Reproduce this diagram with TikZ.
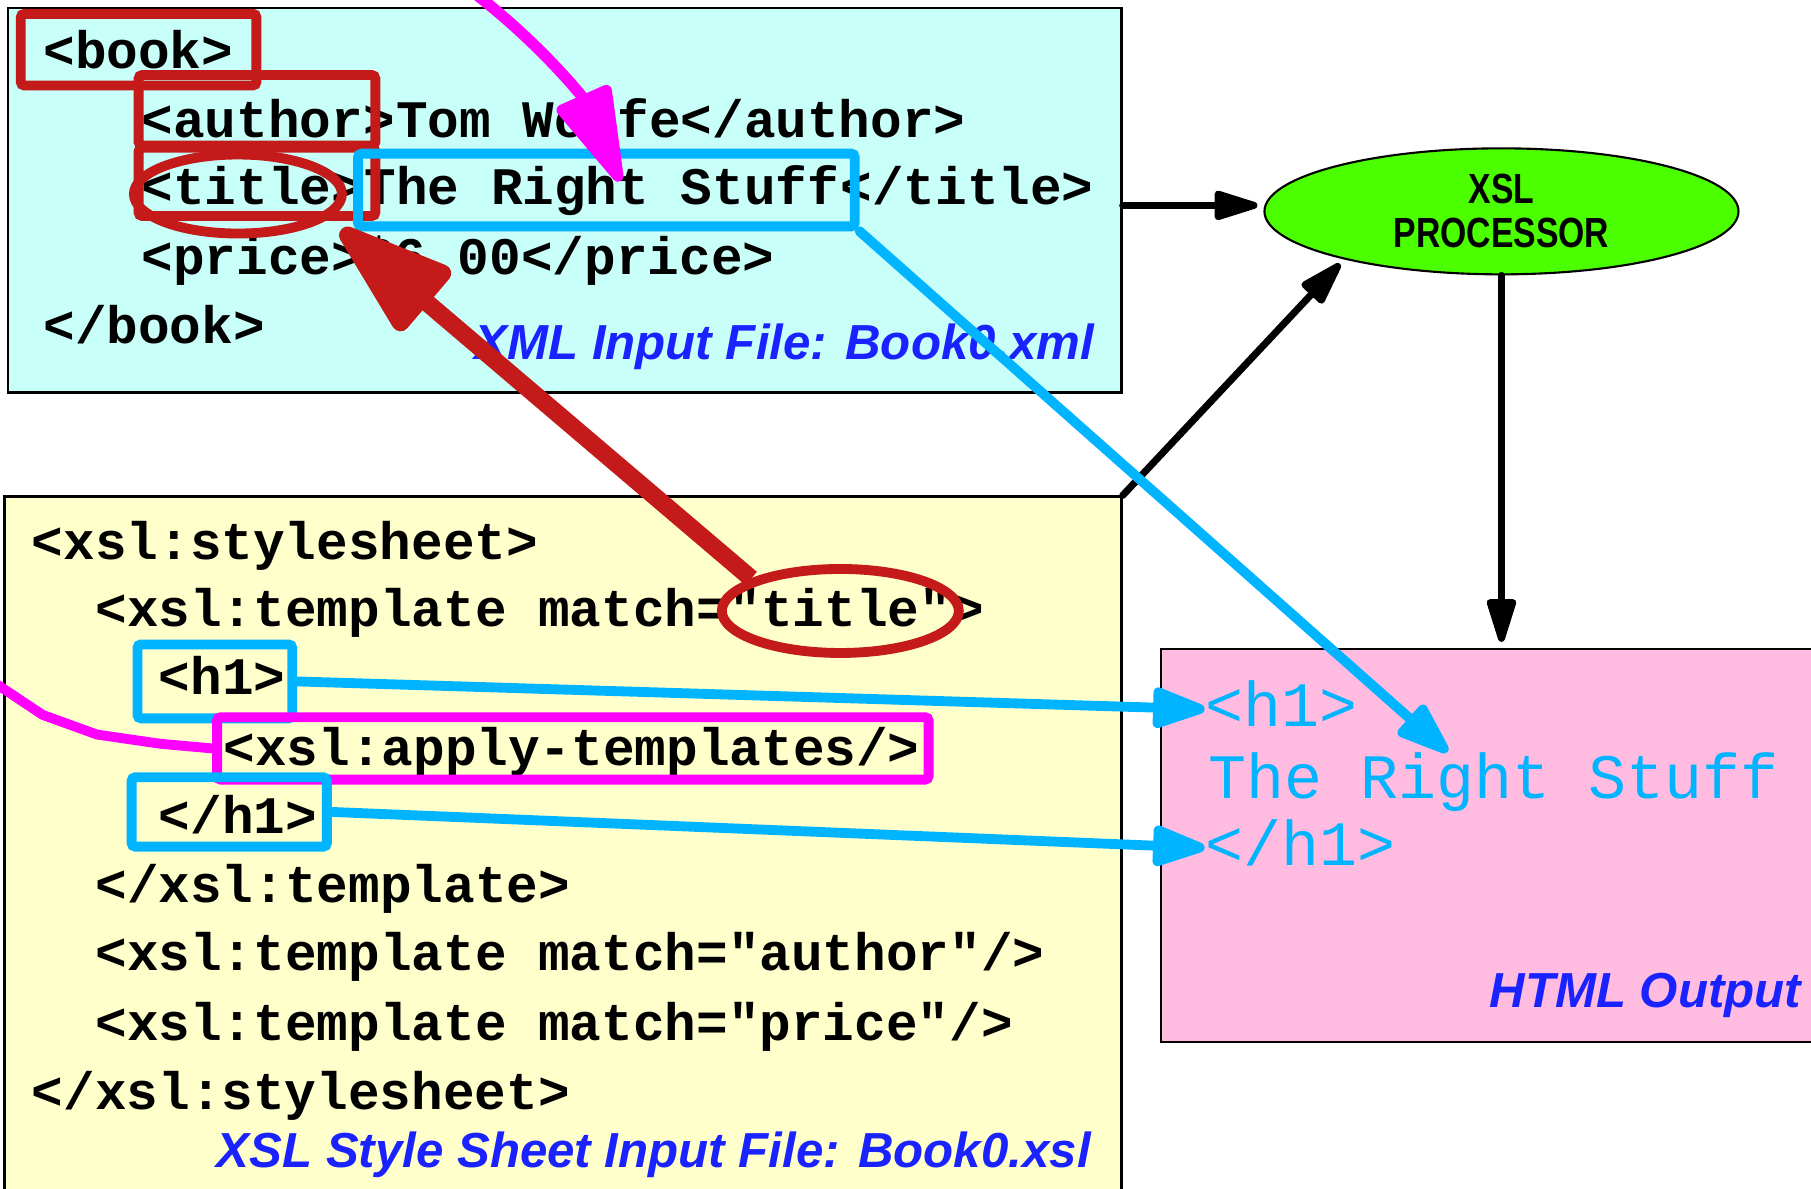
\documentclass[tikz,border=0pt]{standalone}
\usepackage{fontspec}
\usetikzlibrary{arrows.meta,positioning,shapes.geometric,fit}
\newfontfamily\codefont{Liberation Mono}
\newfontfamily\labelfont{Liberation Sans}
\newfontfamily\procfont[FakeStretch=0.8]{Liberation Sans}
\definecolor{xmlbg}{HTML}{C8FFF8}
\definecolor{xslbg}{HTML}{FFFFCC}
\definecolor{htmlbg}{HTML}{FFBBE0}
\definecolor{markred}{HTML}{C41A1A}
\definecolor{markblue}{HTML}{00B4FF}
\definecolor{markpink}{HTML}{FF00FF}
\definecolor{labelblue}{HTML}{1A22FF}
\definecolor{procgreen}{HTML}{4CFF00}

\begin{document}
\begin{tikzpicture}[x=0.1155mm,y=-0.1155mm,panel/.style={draw=black,line width=0.7pt,inner sep=0pt},code/.style={font=\codefont\bfseries\fontsize{15}{18}\selectfont,inner sep=0pt,anchor=west,text height=11pt,text depth=2pt},html/.style={font=\codefont\fontsize{18}{22}\selectfont,text=markblue,inner sep=0pt,anchor=west,text height=13pt,text depth=3pt},caption/.style={font=\labelfont\bfseries\itshape\fontsize{14}{16}\selectfont,text=labelblue,inner sep=0pt,anchor=east},redbox/.style={draw=markred,line width=2.8pt,rounded corners=1pt,inner sep=0pt},bluebox/.style={draw=markblue,line width=2.8pt,rounded corners=1pt,inner sep=0pt},pinkbox/.style={draw=markpink,line width=2.8pt,rounded corners=1pt,inner sep=0pt},redell/.style={ellipse,draw=markred,line width=2.8pt,inner sep=0pt},flow/.style={-{Triangle[length=5.2mm,width=3mm,round]},line width=2pt,line cap=round,shorten >=0.6mm},blueflow/.style={-{Triangle[length=6.2mm,width=4.2mm,round]},draw=markblue,line width=2.8pt,line cap=round},bigarrow/.style={-{Triangle[length=13.5mm,width=8.4mm,round]},draw=markred,line width=5pt},pinkflow/.style={-{Triangle[length=11mm,width=6mm,round]},draw=markpink,line width=3.2pt},pinkline/.style={draw=markpink,line width=2.8pt,line join=round}]
\useasboundingbox (0,0) rectangle (1568,1029);
\clip (0,0) rectangle (1568,1029);
\node[panel,fill=xmlbg,fit={(7,7) (971,340)}] (xmlfile) {};
\node[panel,fill=xslbg,fit={(4,430) (971,1040)}] (xslfile) {};
\node[panel,fill=htmlbg,fit={(1005,562) (1580,902)}] (htmlfile) {};
\node[ellipse,draw,fill=procgreen,line width=0.6pt,minimum width=47.4mm,minimum height=12.6mm,align=center,font=\procfont\bfseries\fontsize{12}{12.5}\selectfont,inner sep=0pt] (xslproc) at (1300,183) {XSL\\PROCESSOR};
% xml input
\node[code] (booktag) at (37,46) {<book>};
\node[code] (authortag) at (122,105) {<author>};
\node[code,right=0pt of authortag] (authorrest) {Tom Wolfe</author>};
\node[code] (titletag) at (122,163) {<title>};
\node[code,right=0pt of titletag] (titletext) {The Right Stuff};
\node[code,right=0pt of titletext] (titleend) {</title>};
\node[code] (pricetag) at (122,224) {<price>\$6.00</price>};
\node[code] (bookend) at (37,284) {</book>};
\node[caption] (xmlcap) at (948,300) {XML Input File: Book0.xml};
% xsl style sheet
\node[code] (sheettag) at (27,471) {<xsl:stylesheet>};
\node[code] (tmplopen) at (82,529) {<xsl:template match=};
\node[code,right=0pt of tmplopen] (matchtitle) {"title"};
\node[code,right=0pt of matchtitle] (tmplclose) {>};
\node[code] (h1tag) at (137,588) {<h1>};
\node[code] (applytag) at (193,649) {<xsl:apply-templates/>};
\node[code] (h1end) at (137,708) {</h1>};
\node[code] (tmplend) at (82,768) {</xsl:template>};
\node[code] (authortmpl) at (82,827) {<xsl:template match="author"/>};
\node[code] (pricetmpl) at (82,887) {<xsl:template match="price"/>};
\node[code] (sheetend) at (27,947) {</xsl:stylesheet>};
\node[caption] (xslcap) at (945,1000) {XSL Style Sheet Input File: Book0.xsl};
% html output
\node[html] (htmlh1) at (1043,614) {<h1>};
\node[html] (htmlstuff) at (1046,676) {The Right Stuff};
\node[html] (htmlh1end) at (1043,734) {</h1>};
\node[caption] (htmlcap) at (1560,862) {HTML Output};
% marks
\node[redbox,fit={(18,12) (222,74)}] (bookbox) {};
\node[redbox,fit={(120,65) (325,126)}] (authorbox) {};
\node[redbox,fit={(120,128) (325,187)}] (titlebox) {};
\node[redell,minimum width=20.8mm,minimum height=7.9mm] (titleell) at (206,168) {};
\node[bluebox,fit={(310,133) (740,196)}] (stuffbox) {};
\node[redell,minimum width=23.7mm,minimum height=8.4mm] (matchell) at (matchtitle) {};
\node[bluebox,fit={(119,558) (253,622)}] (h1box) {};
\node[pinkbox,fit={(188,621) (804,675)}] (applybox) {};
\node[bluebox,fit={(114,673) (283,733)}] (h1endbox) {};
\coordinate (pinktop) at (412,-5);
\coordinate (pinkleft) at (-5,591);
% connectors
\draw[flow] ([yshift=-0.5mm]xmlfile.east) -- ([yshift=-0.5mm]xmlfile.east -| xslproc.west);
\draw[flow] (xslfile.north east) -- (xslproc.197);
\draw[flow] (xslproc.south) -- (xslproc.south |- htmlfile.north);
\draw[blueflow] (h1box.east) -- (htmlh1.west);
\draw[blueflow] (h1endbox.east) -- (htmlh1end.west);
\draw[blueflow] (stuffbox.south east) -- ([xshift=-4.6mm]htmlstuff.north);
\draw[bigarrow] (matchell.160) -- ([shift={(2.2mm,-0.6mm)}]titleell.-20);
\draw[pinkflow] (pinktop) .. controls (470,40) and (505,85) .. (537,157);
\draw[pinkline] (applybox.west) -- (139,644) -- (84,636) -- (37,619) -- (pinkleft);
\end{tikzpicture}
\end{document}
